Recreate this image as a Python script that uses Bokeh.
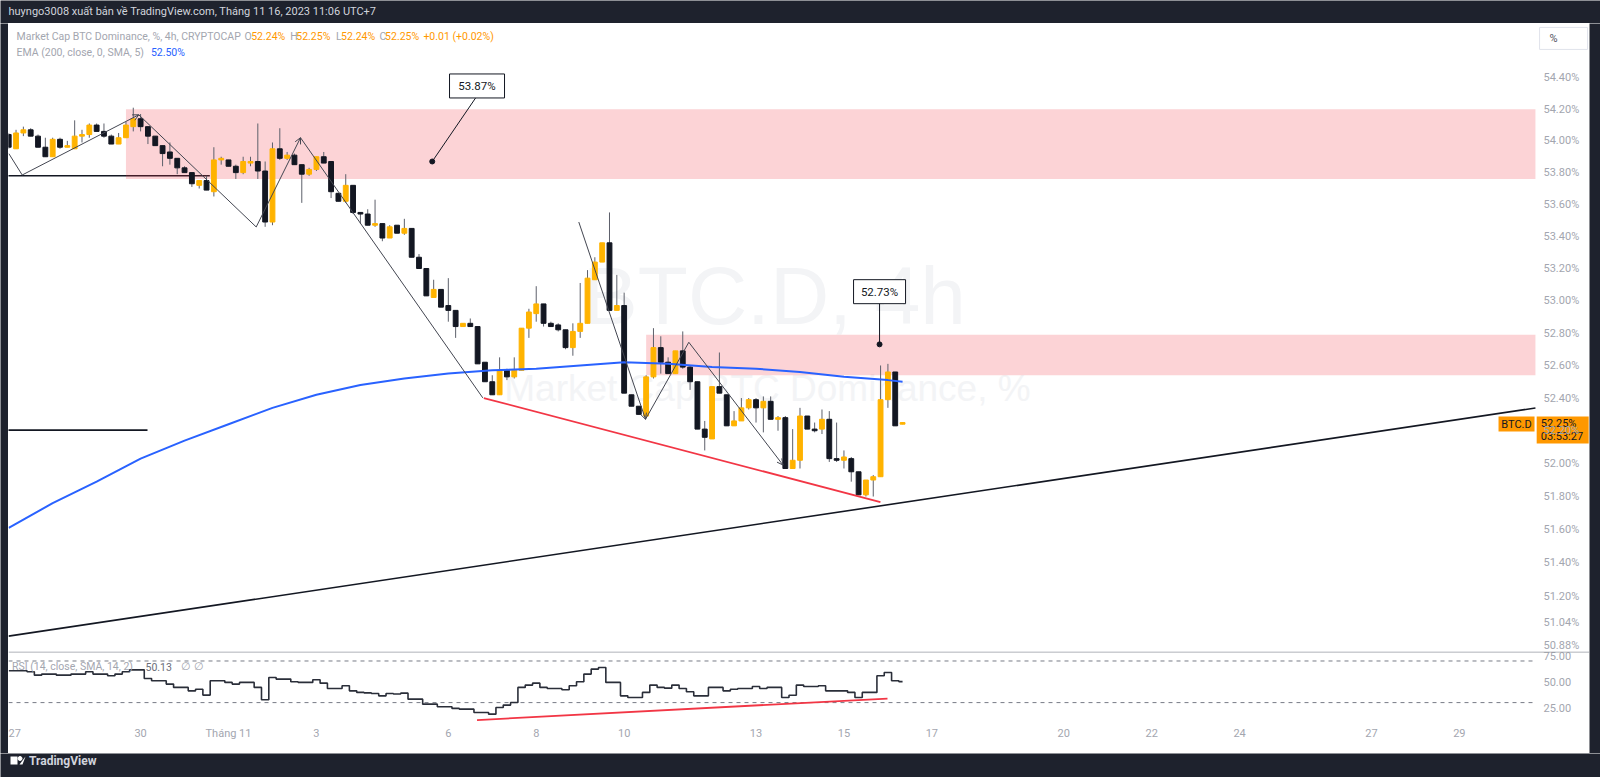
import numpy as np
from bokeh.plotting import figure
from bokeh.models import (ColumnDataSource, Range1d, FixedTicker, PrintfTickFormatter,
                          Label, Arrow, OpenHead, Span)
from bokeh.layouts import column, row
from bokeh.embed import file_html
from bokeh.resources import INLINE
from bokeh.core.properties import value

FONT = "Roboto"
DARK = "#1e222d"
GRAY = "#a3a6af"
UP = "#ffb300"
DOWN = "#131722"
WICK = "#5d606b"
ORANGE = "#ff9800"
BLUE = "#2962ff"
RED = "#f23645"

# ---------------- data ----------------
# 4h bars; index 0 = Nov 1 03:00 (UTC+7); 6 bars per day
bar_index = list(range(-30, 93))
opens = [
    54.04, 53.95, 54.05, 54.07, 54.03, 53.96, 53.90, 54.01, 53.96, 53.95,
    54.03, 54.04, 54.10, 54.06, 54.03, 53.98, 54.02, 54.09, 54.14, 54.09,
    54.03, 53.97, 53.93, 53.89, 53.83, 53.80, 53.72, 53.75, 53.68, 53.88,
    53.88, 53.84, 53.80, 53.86, 53.87, 53.81, 53.49, 53.95, 53.89, 53.91,
    53.85, 53.79, 53.82, 53.90, 53.87, 53.67, 53.62, 53.72, 53.55, 53.54,
    53.47, 53.48, 53.39, 53.47, 53.42, 53.45, 53.27, 53.20, 53.02, 53.07,
    52.97, 52.94, 52.84, 52.86, 52.84, 52.62, 52.50, 52.42, 52.57, 52.53,
    52.57, 52.83, 52.92, 52.98, 52.86, 52.85, 52.82, 52.71, 52.81, 52.86,
    53.13, 53.24, 53.36, 52.94, 52.97, 52.42, 52.35, 52.29, 52.53, 52.71,
    52.62, 52.55, 52.69, 52.59, 52.50, 52.21, 52.15, 52.47, 52.42, 52.23,
    52.26, 52.34, 52.39, 52.34, 52.38, 52.27, 52.28, 51.97, 52.02, 52.29,
    52.21, 52.21, 52.27, 52.03, 52.02, 52.03, 51.95, 51.81, 51.90, 51.92,
    52.39, 52.56, 52.24]
highs = [
    54.05, 54.07, 54.09, 54.08, 54.04, 54.02, 54.02, 54.02, 54.00, 54.13,
    54.07, 54.11, 54.11, 54.11, 54.04, 54.05, 54.12, 54.21, 54.17, 54.09,
    54.03, 53.97, 53.99, 53.89, 53.84, 53.80, 53.75, 53.78, 53.96, 53.90,
    53.88, 53.85, 53.90, 53.90, 54.11, 53.87, 53.99, 54.08, 53.93, 53.92,
    53.85, 53.83, 53.90, 53.93, 53.87, 53.67, 53.79, 53.72, 53.55, 53.57,
    53.63, 53.48, 53.47, 53.47, 53.51, 53.45, 53.29, 53.20, 53.13, 53.07,
    53.14, 52.94, 52.86, 52.89, 52.84, 52.62, 52.54, 52.65, 52.58, 52.65,
    52.83, 52.95, 53.09, 52.98, 52.87, 52.86, 52.82, 52.86, 53.11, 53.19,
    53.27, 53.36, 53.55, 53.16, 53.05, 52.42, 52.35, 52.54, 52.83, 52.78,
    52.65, 52.69, 52.81, 52.60, 52.50, 52.26, 52.47, 52.68, 52.42, 52.32,
    52.40, 52.40, 52.40, 52.41, 52.41, 52.29, 52.29, 52.21, 52.34, 52.29,
    52.25, 52.33, 52.32, 52.25, 52.08, 52.04, 51.95, 51.90, 51.93, 52.60,
    52.61, 52.56, 52.25]
lows = [
    53.95, 53.95, 54.03, 54.03, 53.96, 53.90, 53.90, 53.95, 53.96, 53.95,
    53.99, 54.02, 54.06, 54.02, 53.98, 53.98, 54.02, 54.06, 54.06, 53.98,
    53.97, 53.84, 53.85, 53.79, 53.80, 53.71, 53.70, 53.69, 53.65, 53.85,
    53.84, 53.76, 53.79, 53.84, 53.76, 53.46, 53.47, 53.88, 53.88, 53.85,
    53.61, 53.78, 53.81, 53.86, 53.64, 53.62, 53.61, 53.54, 53.48, 53.47,
    53.46, 53.37, 53.39, 53.42, 53.41, 53.27, 53.20, 53.03, 53.02, 52.96,
    52.87, 52.77, 52.84, 52.84, 52.61, 52.50, 52.42, 52.42, 52.51, 52.52,
    52.57, 52.77, 52.87, 52.84, 52.84, 52.81, 52.70, 52.66, 52.77, 52.86,
    53.13, 53.24, 52.94, 52.94, 52.43, 52.35, 52.30, 52.28, 52.52, 52.55,
    52.55, 52.55, 52.58, 52.45, 52.21, 52.08, 52.15, 52.43, 52.23, 52.23,
    52.26, 52.33, 52.25, 52.19, 52.27, 52.20, 51.97, 51.97, 51.97, 52.21,
    52.19, 52.18, 52.01, 52.01, 51.97, 51.89, 51.81, 51.80, 51.80, 51.92,
    52.34, 52.23, 52.24]
closes = [
    53.96, 54.05, 54.07, 54.03, 53.96, 53.90, 54.01, 53.96, 53.97, 54.03,
    54.04, 54.10, 54.06, 54.03, 53.98, 54.02, 54.10, 54.14, 54.09, 54.03,
    53.97, 53.92, 53.89, 53.83, 53.80, 53.73, 53.75, 53.69, 53.88, 53.89,
    53.84, 53.80, 53.87, 53.87, 53.81, 53.49, 53.95, 53.89, 53.91, 53.85,
    53.79, 53.82, 53.90, 53.86, 53.68, 53.62, 53.72, 53.55, 53.54, 53.47,
    53.48, 53.39, 53.46, 53.42, 53.45, 53.27, 53.20, 53.03, 53.07, 52.96,
    52.94, 52.84, 52.86, 52.84, 52.61, 52.50, 52.42, 52.57, 52.53, 52.57,
    52.83, 52.93, 52.98, 52.86, 52.84, 52.82, 52.71, 52.81, 52.86, 53.14,
    53.24, 53.36, 52.94, 52.97, 52.43, 52.35, 52.30, 52.53, 52.71, 52.62,
    52.55, 52.69, 52.59, 52.50, 52.21, 52.16, 52.47, 52.43, 52.23, 52.26,
    52.34, 52.39, 52.34, 52.38, 52.27, 52.28, 51.97, 52.02, 52.29, 52.21,
    52.20, 52.27, 52.03, 52.02, 52.04, 51.95, 51.81, 51.90, 51.92, 52.39,
    52.56, 52.23, 52.25]
rsi_values = [
    60.6, 60.6, 60.6, 59.6, 56.4, 57.4, 57.4, 56.4, 56.4, 57.4,
    57.4, 59.6, 57.4, 57.4, 55.8, 57.4, 59.6, 61.5, 61.5, 53.2,
    51.0, 51.0, 47.8, 44.6, 44.6, 41.3, 42.9, 37.2, 51.0, 51.0,
    49.4, 47.8, 49.4, 49.4, 44.6, 32.7, 54.2, 52.6, 52.6, 50.0,
    49.4, 49.4, 51.9, 48.7, 43.6, 43.6, 46.2, 41.3, 39.8, 39.3,
    38.8, 36.5, 38.8, 38.2, 39.1, 33.3, 33.3, 28.5, 28.5, 26.0,
    26.0, 24.4, 23.7, 23.7, 20.5, 20.5, 18.9, 25.3, 27.6, 30.1,
    44.6, 46.8, 48.7, 44.6, 43.6, 43.6, 42.3, 46.2, 50.0, 57.4,
    62.2, 63.8, 49.4, 49.4, 36.5, 34.9, 34.9, 39.8, 46.8, 44.6,
    43.9, 46.8, 43.6, 40.4, 36.5, 36.5, 44.6, 44.6, 41.3, 42.9,
    43.6, 43.6, 45.5, 43.6, 44.6, 44.6, 34.9, 37.0, 46.8, 45.5,
    45.5, 46.2, 41.3, 41.3, 41.3, 39.8, 34.9, 39.8, 39.8, 55.8,
    59.0, 51.0, 50.13]
ema_index = [-30, -24, -18, -12, -6, 0, 6, 12, 18, 24, 30, 36, 42, 48, 54, 60, 66, 72, 78, 84, 90, 92]
ema_values = [51.61, 51.76, 51.89, 52.03, 52.14, 52.24, 52.34, 52.42, 52.48, 52.52, 52.55,
              52.57, 52.58, 52.60, 52.62, 52.61, 52.59, 52.58, 52.56, 52.53, 52.51, 52.50]

price_ticks = [50.88, 51.04, 51.20, 51.40, 51.60, 51.80, 52.00, 52.20, 52.40, 52.60,
               52.80, 53.00, 53.20, 53.40, 53.60, 53.80, 54.00, 54.20, 54.40]
rsi_ticks = [25, 50, 75]
rsi_bands = [70, 30]
day_ticks = [-5, -2, 0, 2, 5, 7, 9, 12, 14, 16, 19, 21, 23, 26, 28]
day_labels = ["27", "30", "Tháng 11", "3", "6", "8", "10", "13", "15", "17", "20", "22", "24", "27", "29"]

# drawings: time in days from Nov 1 (03:00 bar), price in %
PANE_END = 29.73           # right edge of the drawing area (price scale starts there)
zone_left = [-2.333, 9.5]
zone_bottom = [53.76, 52.54]
zone_top = [54.20, 52.79]
hline_prices = [53.78, 52.204]
hline_end = [-0.425, -1.843]
trend_t = [-5.005, 29.73]
trend_p = [50.961, 52.339]
zig1_t = [-4.998, -4.693, -2.041, 0.630, 1.638, 5.785]
zig1_p = [53.92, 53.785, 54.165, 53.459, 54.02, 52.401]
zig2_t = [7.968, 9.486, 10.471, 12.614]
zig2_p = [53.49, 52.27, 52.743, 51.991]
red_t = [5.808, 14.83]
red_p = [52.40, 51.766]
rsi_red_t = [5.653, 14.99]
rsi_red_v = [13.2, 33.9]
note_t = [4.634, 14.81]
note_p = [53.87, 52.73]
note_text = ["53.87%", "52.73%"]
note_box_t = [5.653, 14.81]
note_box_p = [54.348, 53.056]
note_line_t0 = [5.619, 14.81]
note_line_p0 = [54.271, 52.988]
last_close = 52.25

X0, X1 = -5.005, 30.96
W = 1581

def strip(w, h):
    f = figure(width=w, height=h, toolbar_location=None, output_backend="svg", min_border=0,
               background_fill_color=DARK, border_fill_color=DARK, outline_line_color=None)
    f.axis.visible = False
    f.grid.visible = False
    return f

# ---------------- header ----------------
header = strip(1600, 23)
header.x_range = Range1d(0, 1600)
header.y_range = Range1d(0, 23)
header.add_layout(Label(x=8, y=12, text="huyngo3008 xuất bản về TradingView.com, Tháng 11 16, 2023 11:06 UTC+7",
                        text_color="#d1d4dc", text_font=FONT, text_font_size="11px", text_baseline="middle"))

# ---------------- main price pane ----------------
XR = Range1d(X0, X1)
main = figure(width=W, height=628, x_range=XR, y_range=Range1d(50.8695, 54.7465), y_axis_type="log",
              y_axis_location="right", toolbar_location=None, output_backend="svg",
              min_border_left=0, min_border_right=0, min_border_top=0, min_border_bottom=0,
              background_fill_color="white", border_fill_color="white", outline_line_color=None)
main.xaxis.visible = False
main.grid.visible = False
yax = main.yaxis[0]
yax.ticker = FixedTicker(ticks=price_ticks, minor_ticks=[])
yax.formatter = PrintfTickFormatter(format="%.2f%%")

def style_axis(ax, standoff):
    ax.axis_line_color = None
    ax.major_tick_line_color = None
    ax.minor_tick_line_color = None
    ax.major_tick_out = 0
    ax.major_tick_in = 0
    ax.major_label_standoff = standoff
    ax.major_label_text_color = GRAY
    ax.major_label_text_font = FONT
    ax.major_label_text_font_size = "11px"

style_axis(yax, -46)

# watermark
main.text(x=[12.42], y=[53.031], text=["BTC.D, 4h"], text_align="center", text_baseline="middle",
          text_font=value("Liberation Sans"), text_font_size="82px", text_color="#f3f4f6")
main.text(x=[12.26], y=[52.459], text=["Market Cap BTC Dominance, %"], text_align="center",
          text_baseline="middle", text_font=value("Liberation Sans"), text_font_size="37px",
          text_color="#f3f4f6")

# lines
for pr, te in zip(hline_prices, hline_end):
    main.line([X0 - 1, te], [pr, pr], line_color=DOWN, line_width=1.6)
main.line(trend_t, trend_p, line_color=DOWN, line_width=1.6)

# zones
main.quad(left=zone_left, right=[PANE_END] * 2, bottom=zone_bottom, top=zone_top,
          fill_color=RED, fill_alpha=0.22, line_color=None)

# candles
xb = np.array(bar_index) / 6.0
o = np.array(opens)
c = np.array(closes)
colors = [UP if cc >= oo else DOWN for oo, cc in zip(opens, closes)]
src = ColumnDataSource(dict(x=xb, high=highs, low=lows, top=np.maximum(o, c), bottom=np.minimum(o, c), color=colors))
main.segment("x", "high", "x", "low", source=src, line_color=WICK, line_width=1)
main.vbar(x="x", width=0.11, top="top", bottom="bottom", source=src, fill_color="color", line_color="color", line_width=1)

# EMA 200
main.line(np.array(ema_index) / 6.0, ema_values, line_color=BLUE, line_width=2)

# zigzags
ZZ = "#434651"
main.line(zig1_t, zig1_p, line_color=ZZ, line_width=1)
main.line(zig2_t, zig2_p, line_color=ZZ, line_width=1)
for tt, pp, legs in ((zig1_t, zig1_p, [1, 3]), (zig2_t, zig2_p, [0, 2])):
    for k in legs:
        main.add_layout(Arrow(end=OpenHead(size=6, line_color=ZZ, line_width=1),
                              x_start=tt[k], y_start=pp[k], x_end=tt[k + 1], y_end=pp[k + 1], line_alpha=0))

# red support line
main.line(red_t, red_p, line_color=RED, line_width=1.8)

# price notes
for i in range(2):
    main.line([note_line_t0[i], note_t[i]], [note_line_p0[i], note_p[i]], line_color=DOWN, line_width=1)
main.scatter(note_t, note_p, size=5, color=DOWN)
main.rect(x=note_box_t, y=note_box_p, width=[55, 52], height=24, width_units="screen", height_units="screen",
          fill_color="white", line_color=DOWN, line_width=1)
main.text(x=note_box_t, y=note_box_p, text=note_text, text_align="center", text_baseline="middle",
          text_font=value(FONT), text_font_size="11.5px", text_color=DOWN)

def lab(fig, sx, y, text, color, size="10.5px", align="left", style="normal"):
    fig.add_layout(Label(x=sx, y=y, x_units="screen", y_units="data", text=text, text_color=color,
                         text_font=FONT, text_font_size=size, text_baseline="middle", text_align=align,
                         text_font_style=style))

# legend texts
y1, y2 = 54.665, 54.561
lab(main, 8, y1, "Market Cap BTC Dominance, %, 4h, CRYPTOCAP", GRAY)
for sx, t, col in [(236, "O", GRAY), (242.7, "52.24%", ORANGE), (281.7, "H", GRAY), (287.8, "52.25%", ORANGE),
                   (327.6, "L", GRAY), (332.6, "52.24%", ORANGE), (370.9, "C", GRAY), (376.6, "52.25%", ORANGE),
                   (414.9, "+0.01 (+0.02%)", ORANGE)]:
    lab(main, sx, y1, t, col)
lab(main, 8, y2, "EMA (200, close, 0, SMA, 5)", GRAY)
lab(main, 142.4, y2, "52.50%", BLUE)

# "%" button and last-price tags on the price scale
main.rect(x=[30.37], y=[54.651], width=48, height=22, width_units="screen", height_units="screen",
          fill_color="white", line_color="#e0e3eb", line_width=1)
main.text(x=[30.05], y=[54.651], text=["%"], text_baseline="middle", text_font=value(FONT),
          text_font_size="11px", text_color="#50535e")
main.rect(x=[30.35, 29.30], y=[52.205, 52.241], width=[52, 36], height=[27, 15], width_units="screen",
          height_units="screen", fill_color=ORANGE, line_color=None)
main.text(x=[29.85, 29.85], y=[52.246, 52.166], text=["%.2f%%" % last_close, "03:53:27"],
          text_baseline="middle", text_font=value(FONT), text_font_size="11px", text_color=DOWN)
main.text(x=[29.30], y=[52.241], text=["BTC.D"], text_align="center", text_baseline="middle",
          text_font=value(FONT), text_font_size="11px", text_color=DOWN)

# ---------------- RSI pane ----------------
RSI_TOP = 79.13
rsi = figure(width=W, height=102, x_range=XR, y_range=Range1d(8.94, RSI_TOP), y_axis_location="right",
             toolbar_location=None, output_backend="svg",
             min_border_left=0, min_border_right=0, min_border_top=0, min_border_bottom=29,
             background_fill_color="white", border_fill_color="white", outline_line_color=None)
rsi.grid.visible = False
ry = rsi.yaxis[0]
ry.ticker = FixedTicker(ticks=rsi_ticks, minor_ticks=[])
ry.formatter = PrintfTickFormatter(format="%.2f")
style_axis(ry, -46)
rx = rsi.xaxis[0]
rx.ticker = FixedTicker(ticks=day_ticks, minor_ticks=[])
rx.major_label_overrides = {t: l for t, l in zip(day_ticks, day_labels)}
style_axis(rx, 2)

# pane separator along the top edge of the RSI pane
rsi.add_layout(Span(location=RSI_TOP - 0.48, dimension="width", line_color="#9598a1", line_width=1))
for lv in rsi_bands:
    rsi.line([X0, PANE_END], [lv, lv], line_color="#787b86", line_width=1, line_dash="4 4")
rsi.step(xb, rsi_values, mode="center", line_color="#2a2e39", line_width=1.6)
rsi.line(rsi_red_t, rsi_red_v, line_color=RED, line_width=1.8)
ly = 64.7
lab(rsi, 3.5, ly, "RSI (14, close, SMA, 14, 2)", GRAY)
lab(rsi, 137, ly, "50.13", "#6a6d78")
lab(rsi, 172, ly, "∅", GRAY)
lab(rsi, 185, ly, "∅", GRAY)

# ---------------- side strips & footer ----------------
left_strip = strip(8, 730)
right_strip = strip(11, 730)

footer = strip(1600, 24)
footer.x_range = Range1d(0, 1600)
footer.y_range = Range1d(0, 24)
footer.quad(left=[10], right=[17], top=[21], bottom=[13], fill_color="white", line_color=None)
footer.scatter([19.5], [19], size=4, color="white")
footer.patch([19, 25, 22], [13, 21, 13], fill_color="white", line_color=None)
footer.add_layout(Label(x=28.5, y=17, text="TradingView", text_color="#d1d4dc", text_font=FONT,
                        text_font_size="12px", text_font_style="bold", text_baseline="middle"))

layout = column(header, row(left_strip, column(main, rsi), right_strip), footer)
open("out.html", "w").write(file_html(layout, INLINE))
